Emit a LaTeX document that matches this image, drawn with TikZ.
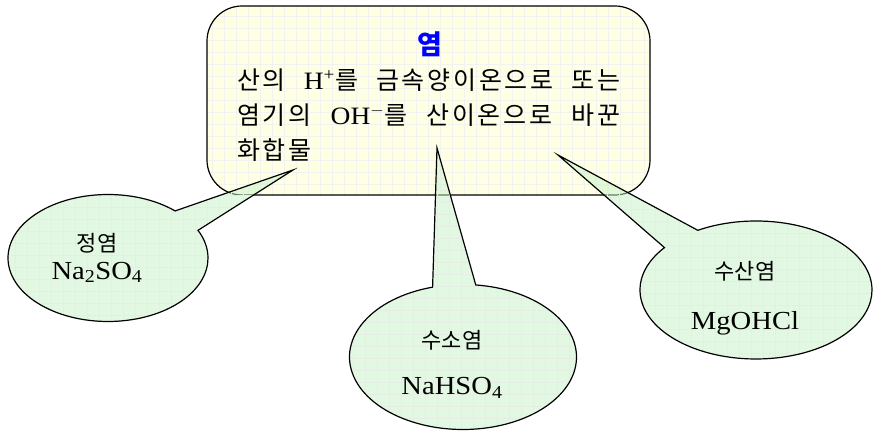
\documentclass[tikz,border=0pt]{standalone}
\usepackage{fontspec}
\setmainfont{Liberation Serif}
\newfontfamily\krfont{Noto Sans CJK KR}
\newfontfamily\krwide[LetterSpace=11]{Noto Sans CJK KR}
\newfontfamily\formulafont[FakeStretch=1.1]{Liberation Serif}
\usetikzlibrary{shapes.callouts}
\definecolor{boxyellow}{HTML}{FFFFE3}
\definecolor{calloutgreen}{HTML}{C8F2C8}
\definecolor{titleblue}{HTML}{0000FF}
\newcommand{\kr}[1]{{\krwide #1}}
\newcommand{\shiftleft}{\hspace*{22pt}}

\begin{document}
\begin{tikzpicture}[x=1pt,y=1pt,
  gridfill/.style={path picture={\draw[#1,line width=0.5pt] ([shift={(-4,-4)}]path picture bounding box.south west) grid[step=12pt] (path picture bounding box.north east);}},
  saltbox/.style={draw,line width=1.2pt,fill=boxyellow,rounded corners=35pt,gridfill=yellow!18!black!7},
  saltkind/.style={ellipse callout,draw,line width=1.2pt,fill=calloutgreen,fill opacity=0.5,text opacity=1,
    callout pointer arc=22,align=center,inner sep=0pt,gridfill=green!30!black!10,
    font=\fontsize{22}{26}\selectfont\krfont},
]
\useasboundingbox (0,0) rectangle (873,433);
% definition box
\node[saltbox,minimum width=443pt,minimum height=189pt] (salt) at (428.5,332.5) {};
\node[font=\fontsize{27}{30}\selectfont\krfont\bfseries,text=titleblue] (title) at (430,389) {염};
\node[font=\fontsize{25}{35}\selectfont\formulafont,align=left,inner sep=0pt,anchor=north west] (meaning) at (237,364) {%
  \makebox[383pt][s]{\kr{산의} H\textsuperscript{+}\kr{를} \kr{금속양이온으로} \kr{또는}}\\
  \makebox[383pt][s]{\kr{염기의} OH\textsuperscript{$-$}\kr{를} \kr{산이온으로} \kr{바꾼}}\\
  \kr{화합물}};
% pointer tips
\coordinate (tipnormal) at (293,263);
\coordinate (tipacid) at (437,285);
\coordinate (tipbasic) at (558,278);
% normal salt
\node[saltkind,minimum width=200pt,minimum height=127pt,callout absolute pointer=(tipnormal)] (normal) at (108,175)
  {정염\shiftleft\\[2pt]{\fontsize{26}{28}\formulafont Na\textsubscript{2}SO\textsubscript{4}}\shiftleft};
% acid salt
\node[saltkind,minimum width=227pt,minimum height=145pt,callout absolute pointer=(tipacid)] (acid) at (463,76)
  {\rule{0pt}{33pt}수소염\shiftleft\\[20pt]{\fontsize{26}{28}\formulafont NaHSO\textsubscript{4}}\shiftleft};
% basic salt
\node[saltkind,minimum width=232pt,minimum height=138pt,callout absolute pointer=(tipbasic)] (basic) at (756,143)
  {\rule{0pt}{35pt}수산염\shiftleft\\[24pt]{\fontsize{26}{28}\formulafont MgOHCl}\shiftleft};
\end{tikzpicture}
\end{document}
